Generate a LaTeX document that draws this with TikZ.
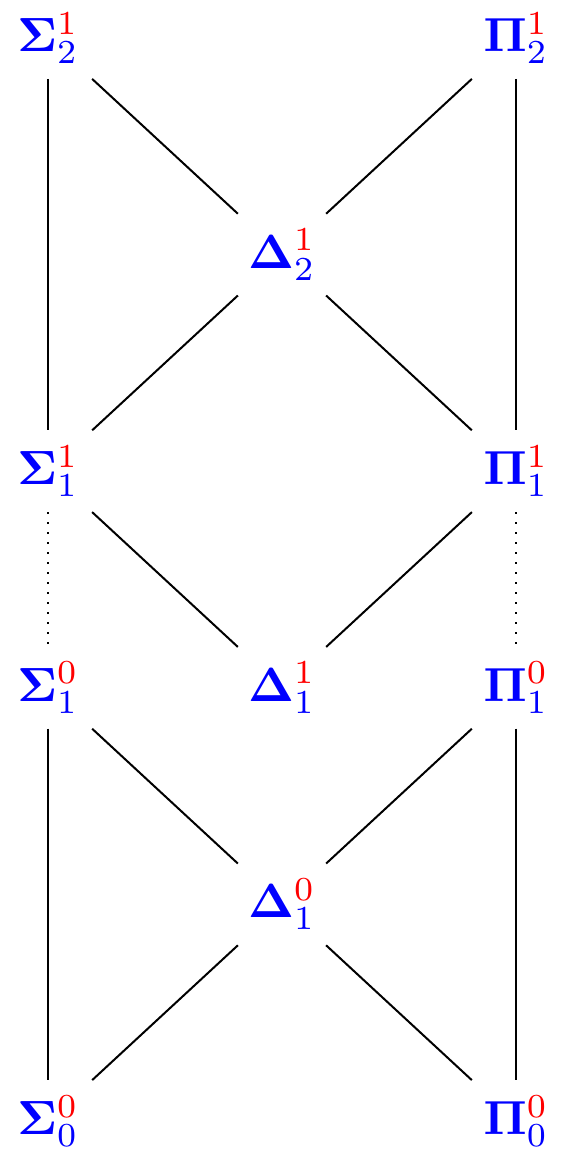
\documentclass[tikz,border=0pt]{standalone}
\usepackage{amsmath}
\usepackage{graphicx}
\usetikzlibrary{positioning}
\newcommand{\ptcls}[3]{\scalebox{2.4}{$\mathbf{#1}^{\textcolor{red}{#2}}_{#3}$}}

\begin{document}
\begin{tikzpicture}[
  node distance=108.3pt and 117pt, on grid,
  lvl/.style={text=blue, inner sep=7.5pt},
  edge/.style={line width=1pt},
  dotline/.style={line width=1pt, dash pattern=on 1pt off 4pt}
]
\useasboundingbox (0,0) rectangle (281.5pt,-576.5pt);
\node[lvl] (s2) at (24pt,-19pt) {\ptcls{\Sigma}{1}{2}};
\node[lvl, below right=of s2] (d2) {\ptcls{\Delta}{1}{2}};
\node[lvl, above right=of d2] (p2) {\ptcls{\Pi}{1}{2}};
\node[lvl, below left=of d2] (s1) {\ptcls{\Sigma}{1}{1}};
\node[lvl, below right=of d2] (p1) {\ptcls{\Pi}{1}{1}};
\node[lvl, below=of s1] (s01) {\ptcls{\Sigma}{0}{1}};
\node[lvl, below right=of s1] (d1) {\ptcls{\Delta}{1}{1}};
\node[lvl, below=of p1] (p01) {\ptcls{\Pi}{0}{1}};
\node[lvl, below right=of s01] (d01) {\ptcls{\Delta}{0}{1}};
\node[lvl, below left=of d01] (s00) {\ptcls{\Sigma}{0}{0}};
\node[lvl, below right=of d01] (p00) {\ptcls{\Pi}{0}{0}};
% projective level
\draw[edge] (s2) -- (s1);
\draw[edge] (p2) -- (p1);
\draw[edge] (s2) -- (d2);
\draw[edge] (p2) -- (d2);
\draw[edge] (d2) -- (s1);
\draw[edge] (d2) -- (p1);
\draw[edge] (s1) -- (d1);
\draw[edge] (p1) -- (d1);
\draw[dotline] (s1) -- (s01);
\draw[dotline] (p1) -- (p01);
% borel level
\draw[edge] (s01) -- (s00);
\draw[edge] (p01) -- (p00);
\draw[edge] (s01) -- (d01);
\draw[edge] (p01) -- (d01);
\draw[edge] (d01) -- (s00);
\draw[edge] (d01) -- (p00);
\end{tikzpicture}
\end{document}
